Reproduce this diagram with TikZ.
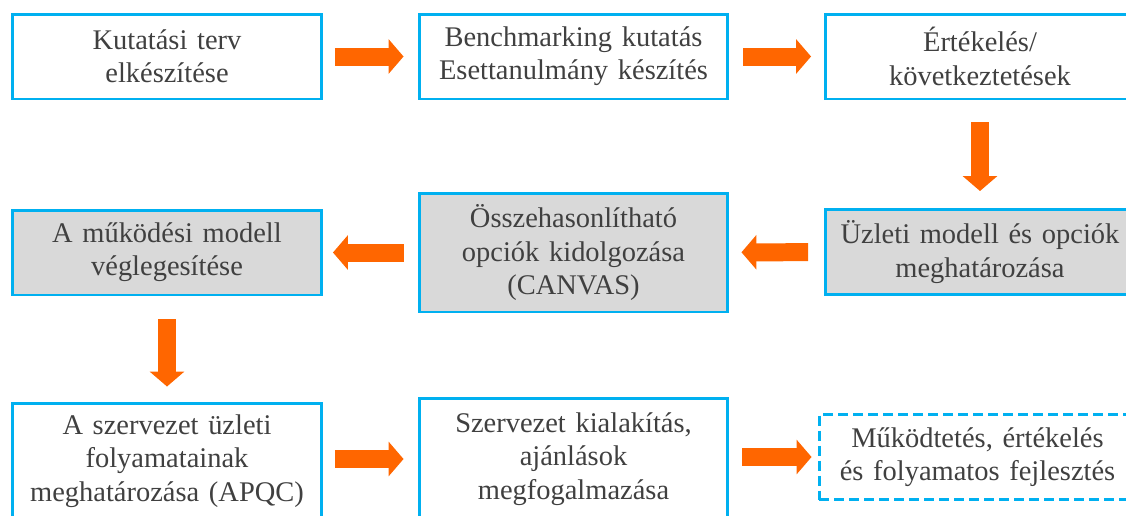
\documentclass[tikz,border=0pt]{standalone}
\usepackage{fontspec}
\setmainfont{LiberationSerif}[Extension=.ttf,UprightFont=*-Regular,BoldFont=*-Bold]
\usepackage{tikz}
\usetikzlibrary{arrows.meta}
\usepackage{xcolor}

\definecolor{keret}{HTML}{00B0F0}
\definecolor{narancs}{HTML}{FF6600}
\definecolor{szurke}{HTML}{D9D9D9}
\definecolor{betu}{HTML}{404040}

\newcommand{\dobozbetu}{\fontsize{16.2}{18.9}\selectfont
  \setlength{\spaceskip}{0.34em plus 0.1em}}

\tikzset{
  doboz/.style={draw=keret,line width=1.7pt,align=center,text=betu,
    font=\dobozbetu,
    minimum width=6.18cm,minimum height=1.7cm,inner sep=0pt},
  szurkedoboz/.style={doboz,fill=szurke},
  nyil/.style={draw=narancs,line width=0.36cm,
    -{Triangle[length=0.3cm,width=0.68cm]}}
}

\begin{document}
\begin{tikzpicture}[x=0.02cm,y=-0.02cm]
		
		\useasboundingbox (0,0) rectangle (1126,515);
		\clip (0,0) rectangle (1126,515);
		
		% First row
		\node[doboz] (terv) at (167,56.5) {Kutatási terv\\elkészítése};
		\node[doboz] (bench) at (573.5,56.5) {Benchmarking kutatás\\Esettanulmány készítés};
		\node[doboz] (ertek) at (980,56.5) {Értékelés/\\következtetések};
		
		% Second row
		\node[szurkedoboz] (modell) at (167,252.5) {A működési modell\\véglegesítése};
		\node[szurkedoboz,minimum height=2.38cm] (canvas) at (573.5,252.5)
			{Összehasonlítható\\opciók kidolgozása\\(CANVAS)};
		\node[szurkedoboz] (uzleti) at (980,252) {Üzleti modell és opciók\\meghatározása};
		
		% Third row
		\node[doboz,minimum height=2.32cm] (apqc) at (167,461)
			{A szervezet üzleti\\folyamatainak\\meghatározása (APQC)};
		\node[doboz,minimum height=2.44cm] (szerv) at (573.5,459)
			{Szervezet kialakítás,\\ajánlások\\megfogalmazása};
		\node[doboz,dash pattern=on 0.2cm off 0.1cm,minimum width=6.34cm] (mukod) at (977.5,457)
			{Működtetés, értékelés\\és folyamatos fejlesztés};
		
		% Arrows
		\draw[nyil,shorten <=0.24cm,shorten >=0.28cm] (terv) -- (bench);
		\draw[nyil,shorten <=0.28cm,shorten >=0.26cm] (bench) -- (ertek);
		\draw[nyil,shorten <=0.44cm,shorten >=0.34cm] (ertek.south) -- (ertek.south |- uzleti.north);
		\draw[nyil,shorten <=0.32cm,shorten >=0.24cm] (uzleti) -- (canvas);
		\draw[nyil,shorten <=0.28cm,shorten >=0.2cm] (canvas.west |- modell) -- (modell);
		\draw[nyil,shorten <=0.46cm,shorten >=0.3cm] (modell.south) -- (apqc.north);
		\draw[nyil,shorten <=0.24cm,shorten >=0.28cm] (apqc.east |- szerv) -- (szerv.west);
		\draw[nyil,shorten <=0.26cm,shorten >=0.12cm] (mukod.west -| szerv.east) -- (mukod.west);
		
	\end{tikzpicture}
\end{document}
